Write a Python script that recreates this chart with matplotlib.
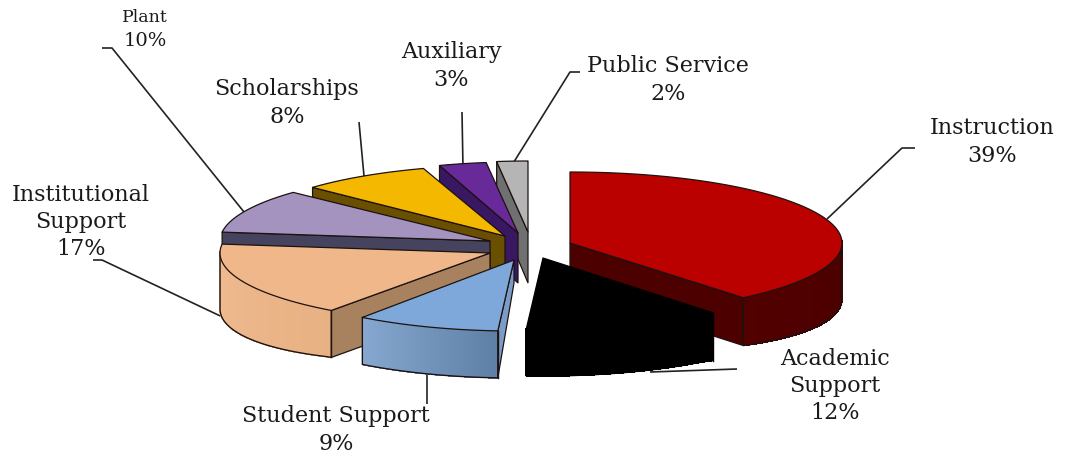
import numpy as np
import matplotlib
matplotlib.use("Agg")
import matplotlib.pyplot as plt
from matplotlib.colors import to_rgb

# --- data ---
categories = ["Instruction", "Academic\nSupport", "Student Support", "Institutional\nSupport",
              "Plant", "Scholarships", "Auxiliary", "Public Service"]
values = [39, 12, 9, 17, 10, 8, 3, 2]

# --- styling / layout (pixel space of the figure) ---
top_colors = ["#BB0000", "#000000", "#7FA8DA", "#F0B88A", "#A593BF", "#F5B800", "#682A98", "#B5B5B5"]
face_colors = ["#4C0000", "#000000", "#7C9CC8", "#A8825F", "#45435E", "#6A4F00", "#391763", "#707070"]
wall_left = ["#520000", "#000000", "#86A8D0", "#EFBB90", "#45435E", "#6A4F00", "#391763", "#707070"]
wall_right = ["#4A0000", "#000000", "#5F80A6", "#E8B184", "#45435E", "#6A4F00", "#391763", "#707070"]
edge_colors = ["#1c1210", "#000000", "#1c1210", "#1c1210", "#1c1210", "#1c1210", "#1c1210", "#1c1210"]
apex_x = [570, 543, 514, 490, 490, 505, 518, 528]
apex_y = [243, 258, 260, 253, 241, 236, 233, 232]
radius_x = [272, 266, 258, 270, 270, 264, 254, 250]
radius_y = 71
depth_base = 47
depth_extra = 9
inner_depth = [47, 47, 23, 47, 47, 47, 50, 51]
draw_order = [0, 7, 6, 5, 4, 3, 2, 1]

fig = plt.figure(figsize=(10.67, 4.53), dpi=100, facecolor="white")
ax = fig.add_axes([0, 0, 1, 1])
ax.set_xlim(0, 1067)
ax.set_ylim(453, 0)
ax.axis("off")

cum = np.concatenate([[0], np.cumsum(values)]) * 360.0 / np.sum(values)


def point(i, th):
    t = np.radians(th)
    return apex_x[i] + radius_x[i] * np.sin(t), apex_y[i] - radius_y * np.cos(t)


def depth(th):
    s = abs(np.sin(np.radians(th)))
    return depth_base + depth_extra * max(0.0, s - 0.6) / 0.4


for i in draw_order:
    a, b = cum[i], cum[i + 1]
    z = 2 + draw_order.index(i)
    edge = edge_colors[i]
    # cut faces facing the viewer
    for th, normal in ((a, a - 90), (b, b + 90)):
        if np.cos(np.radians(normal - 180)) > 0.02:
            x, y = point(i, th)
            d = depth(th)
            ax.fill([apex_x[i], x, x, apex_x[i]],
                    [apex_y[i], y, y + d, apex_y[i] + inner_depth[i]],
                    facecolor=face_colors[i], edgecolor=edge, lw=0.9, zorder=z)
    # outer wall with a left-right shading
    lo, hi = max(a, 88), min(b, 271)
    if hi > lo:
        ths = np.linspace(lo, hi, 41)
        c_r, c_l = np.array(to_rgb(wall_right[i])), np.array(to_rgb(wall_left[i]))
        for k in range(40):
            f = k / 39
            col = c_r * (1 - f) + c_l * f
            t0, t1 = ths[k], ths[k + 1]
            x0, y0 = point(i, t0)
            x1, y1 = point(i, t1)
            ax.fill([x0, x1, x1, x0], [y0, y1, y1 + depth(t1), y0 + depth(t0)],
                    facecolor=col, edgecolor=col, lw=0.5, antialiased=False, zorder=z)
        xs, ys = zip(*[point(i, t) for t in ths])
        xs, ys = np.array(xs), np.array(ys)
        ds = np.array([depth(t) for t in ths])
        ax.plot(np.r_[xs[0], xs, xs[-1]], np.r_[ys[0], ys + ds, ys[-1]], color=edge, lw=1.0,
                zorder=z + 0.2)
        if a >= 88 and a < 270:
            ax.plot([xs[0], xs[0]], [ys[0], ys[0] + ds[0]], color=edge, lw=1.0, zorder=z + 0.2)
    # top face
    ths = np.linspace(a, b, 60)
    pts = [point(i, t) for t in ths]
    px = [apex_x[i]] + [p[0] for p in pts]
    py = [apex_y[i]] + [p[1] for p in pts]
    ax.fill(px, py, facecolor=top_colors[i], edgecolor=edge, lw=0.9, joinstyle="round", zorder=z + 0.4)

# --- leader lines ---
leaders = [
    ([915, 902, 827], [148, 148, 219]),
    ([737, 650], [369, 372]),
    ([427, 427], [374, 404]),
    ([93, 102, 233], [260, 260, 322]),
    ([102, 112, 244], [48, 48, 212]),
    ([359, 364], [122, 176]),
    ([462, 463], [112, 168]),
    ([580, 570, 512], [72, 72, 165]),
]
for lx, ly in leaders:
    ax.plot(lx, ly, color="#222222", lw=1.2, zorder=1, solid_capstyle="butt")

# --- labels ---
label_xy = [(992, 142), (835, 386), (336, 430), (81, 222), (145, 41), (287, 103), (451, 66), (668, 80)]
font = dict(family="DejaVu Serif", color="#1a1a1a", ha="center", va="center", zorder=30)
for i, (name, v) in enumerate(zip(categories, values)):
    if name == "Plant":
        ax.text(145, 17, name, fontsize=12.5, **font)
        ax.text(145, 41, f"{v}%", fontsize=14, **font)
    else:
        ax.text(label_xy[i][0], label_xy[i][1], f"{name}\n{v}%", fontsize=16,
                linespacing=1.3, **font)

fig.savefig("out.png", dpi=100, facecolor="white")
